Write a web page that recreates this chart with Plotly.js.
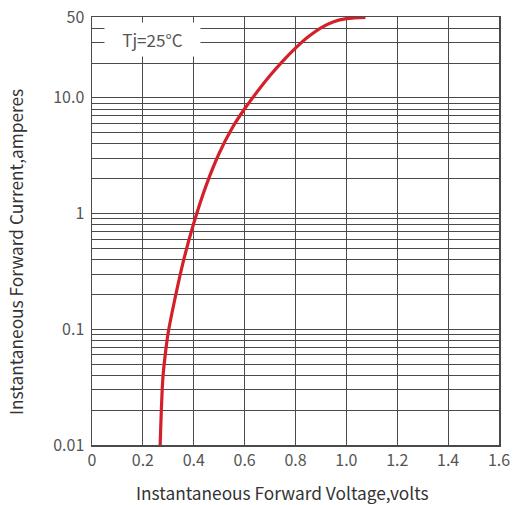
<!DOCTYPE html>
<html>
<head>
<meta charset="utf-8">
<script src="https://cdn.plot.ly/plotly-3.0.1.min.js"></script>
<style>html,body{margin:0;padding:0;background:#fff;}#chart{width:517px;height:505px;}</style>
</head>
<body>
<div id="chart"></div>
<script>
// Forward voltage (V) and forward current (A)
var voltage = [0.268, 0.279, 0.288, 0.299, 0.325, 0.36, 0.40, 0.45, 0.50, 0.55, 0.60, 0.65, 0.70, 0.75, 0.80, 0.85, 0.90, 0.95, 1.00, 1.075];
var current = [0.01, 0.039, 0.0603, 0.092, 0.179, 0.394, 0.824, 1.78, 3.32, 5.44, 8.05, 11.35, 15.6, 20.8, 26.9, 33.7, 40.3, 45.5, 48.4, 49.7];

// Horizontal grid values and their labels
var yGridVals = [0.01,0.02,0.03,0.04,0.05,0.06,0.07,0.08,0.09,
                 0.1,0.2,0.3,0.4,0.5,0.6,0.7,0.8,0.9,
                 1,2,3,4,5,6,7,8,9,
                 10,20,30,40,50];
var yLabelMap = {0.01:'0.01', 0.1:'0.1', 1:'1', 10:'10.0', 50:'50'};
var xTickVals = [0,0.2,0.4,0.6,0.8,1.0,1.2,1.4,1.6];
var xTickText = ['0','0.2','0.4','0.6','0.8','1.0','1.2','1.4','1.6'];
var noteText = 'Tj=25°C';
var xTitle = 'Instantaneous Forward Voltage,volts';
var yTitle = 'Instantaneous Forward Current,amperes';

var yTickText = yGridVals.map(function(v){ return yLabelMap[v] !== undefined ? yLabelMap[v] : ''; });

var font = '"Noto Sans CJK SC", "Noto Sans", sans-serif';

var trace = {
  x: voltage, y: current, type: 'scatter', mode: 'lines',
  line: {color: '#d4202a', width: 3.2, shape: 'spline', smoothing: 1},
  hoverinfo: 'skip'
};

var layout = {
  width: 517, height: 505,
  margin: {l: 92, r: 18, t: 17, b: 60},
  paper_bgcolor: '#fff', plot_bgcolor: '#fff',
  showlegend: false,
  font: {family: font, color: '#444', size: 16},
  xaxis: {
    range: [0, 1.6], tickvals: xTickVals, ticktext: xTickText,
    showgrid: true, gridcolor: '#4a4a4a', gridwidth: 1,
    showline: true, linecolor: '#4a4a4a', linewidth: 1.5, mirror: true,
    ticks: '', zeroline: false,
    tickfont: {family: font, size: 16, color: '#555'}
  },
  yaxis: {
    type: 'log', range: [-2, Math.log10(50)],
    tickvals: yGridVals, ticktext: yTickText,
    showgrid: true, gridcolor: '#4a4a4a', gridwidth: 1,
    showline: true, linecolor: '#4a4a4a', linewidth: 1.5, mirror: true,
    ticks: '', zeroline: false, ticklabelstandoff: 3,
    tickfont: {family: font, size: 16, color: '#555'}
  },
  annotations: [{
    x: 0.0283, y: 0.948, xref: 'paper', yref: 'paper', xanchor: 'left', yanchor: 'middle',
    text: noteText, showarrow: false,
    bgcolor: '#fff', borderpad: 0, width: 95, height: 33,
    font: {family: font, size: 17, color: '#555'}
  }, {
    x: 0.467, y: -0.11, xref: 'paper', yref: 'paper', xanchor: 'center', yanchor: 'middle',
    text: xTitle, showarrow: false,
    font: {family: font, size: 17.3, color: '#333'}
  }, {
    x: -0.1867, y: 0.451, xref: 'paper', yref: 'paper', xanchor: 'center', yanchor: 'middle',
    text: yTitle, showarrow: false, textangle: -90,
    font: {family: font, size: 17.3, color: '#333'}
  }]
};

Plotly.newPlot('chart', [trace], layout, {displayModeBar: false, staticPlot: true});
</script>
</body>
</html>
